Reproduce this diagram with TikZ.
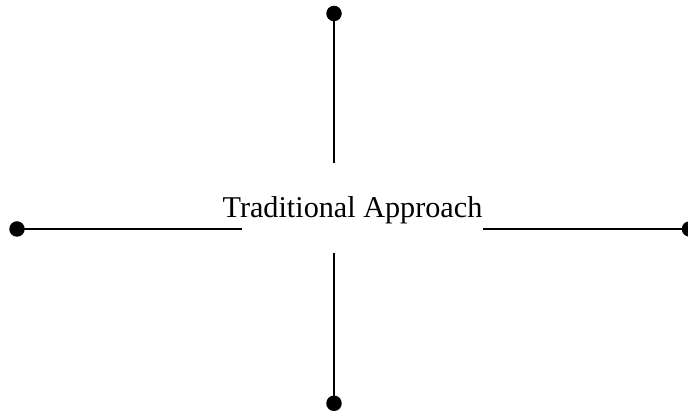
\documentclass[tikz,border=0pt]{standalone}
\usepackage{fontspec}
\setmainfont{Liberation Serif}
\tikzset{
    end dot/.style = {circle, fill, inner sep=0pt, minimum size=15.5pt},
    arm/.style = {draw, line width=2pt},
}
\begin{document}
\begin{tikzpicture}[x=1pt, y=1pt]
        \useasboundingbox (0, 0) rectangle (688, 414);

        \node (ta) [anchor=base, font=\fontsize{30.2}{36}\selectfont] at (352.5, 196) {Traditional Approach};

        \node (tdot) [end dot] at (334, 400.5) {};
        \node (bdot) [end dot] at (334, 10.7) {};
        \node (ldot) [end dot] at (17, 185) {};
        \node (rdot) [end dot] at (689.5, 185) {};

        \coordinate (tend) at (334, 251);
        \coordinate (bend) at (334, 161);
        \coordinate (lend) at (242, 185);
        \coordinate (rend) at (483, 185);

        \draw [arm] (tdot.center) -- (tend);
        \draw [arm] (bdot.center) -- (bend);
        \draw [arm] (ldot.center) -- (lend);
        \draw [arm] (rdot.center) -- (rend);
    \end{tikzpicture}
\end{document}
